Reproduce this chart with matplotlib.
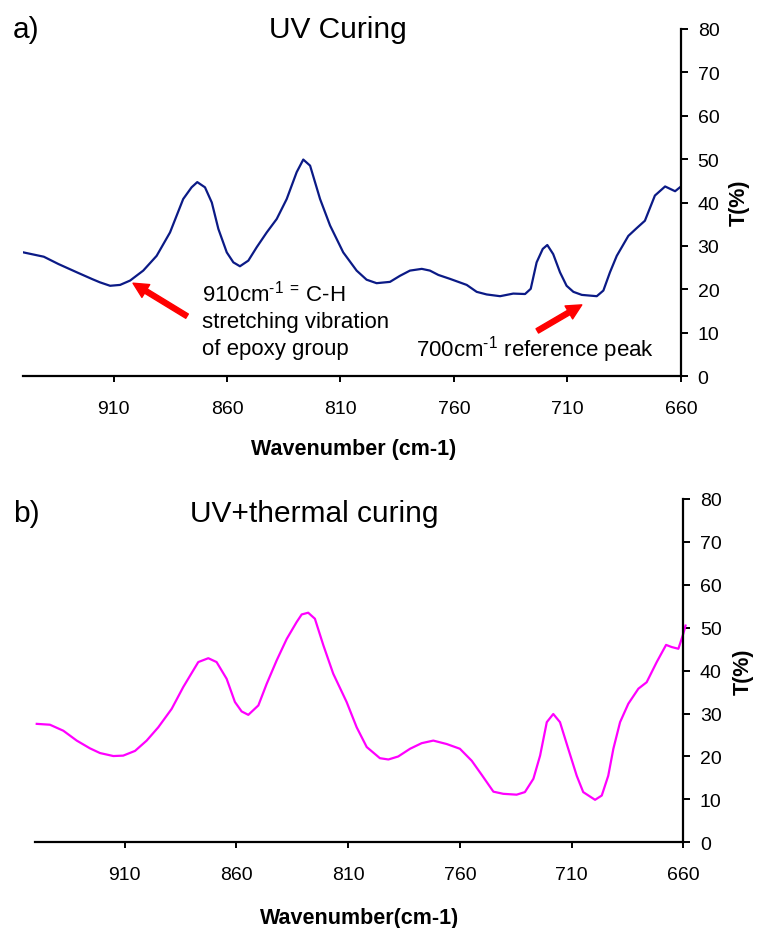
import matplotlib
matplotlib.use("Agg")
import matplotlib.pyplot as plt

plt.rcParams['font.family'] = ['Liberation Sans', 'DejaVu Sans']
plt.rcParams['mathtext.fontset'] = 'custom'
plt.rcParams['mathtext.rm'] = 'Liberation Sans'
plt.rcParams['mathtext.it'] = 'Liberation Sans'

# ---- data ----
wn_a = [949.7, 940.7, 934.2, 925.7, 919.2, 916.0, 911.5, 907.1, 902.7, 896.9,
        891.0, 885.1, 879.3, 875.6, 873.1, 869.7, 866.7, 863.8, 860.1, 857.2,
        854.3, 850.6, 846.9, 842.5, 838.1, 833.7, 829.3, 826.4, 823.4, 819.0,
        814.6, 808.8, 802.9, 798.5, 794.1, 788.2, 783.8, 779.4, 774.2, 770.6,
        766.9, 761.8, 754.4, 750.0, 745.6, 739.7, 733.9, 728.7, 726.2, 723.6,
        720.9, 718.9, 716.3, 713.3, 710.4, 707.4, 703.7, 697.1, 694.2, 691.3,
        688.3, 683.2, 679.5, 675.9, 671.5, 667.0, 662.6, 660.0]
t_a = [28.5, 27.5, 25.8, 23.8, 22.3, 21.6, 20.8, 21.0, 22.0, 24.3,
       27.7, 33.1, 40.8, 43.5, 44.7, 43.5, 40.0, 33.9, 28.5, 26.2,
       25.3, 26.6, 29.7, 33.1, 36.2, 40.8, 47.0, 49.9, 48.5, 40.8,
       34.7, 28.5, 24.3, 22.2, 21.4, 21.7, 23.1, 24.3, 24.7, 24.3,
       23.3, 22.4, 21.0, 19.4, 18.8, 18.4, 19.0, 18.9, 20.1, 26.2,
       29.3, 30.2, 28.1, 23.9, 20.8, 19.4, 18.7, 18.4, 19.7, 23.9,
       27.7, 32.3, 34.1, 35.8, 41.6, 43.7, 42.6, 43.7]

wn_b = [949.4, 943.5, 937.5, 931.5, 925.6, 921.1, 915.1, 910.7, 905.4, 900.2,
        895.0, 889.0, 883.8, 877.1, 872.6, 868.9, 864.4, 860.7, 857.7, 854.7,
        850.2, 846.5, 842.0, 837.5, 833.1, 830.8, 827.9, 824.9, 821.1, 816.7,
        810.7, 806.2, 801.7, 795.8, 792.0, 787.6, 782.3, 777.1, 771.9, 765.9,
        760.0, 754.7, 750.2, 745.0, 740.6, 734.6, 730.9, 727.1, 724.1, 721.1,
        718.2, 715.2, 711.5, 707.7, 704.8, 699.5, 696.5, 693.6, 691.3, 688.3,
        684.6, 680.1, 676.4, 671.9, 667.7, 665.2, 662.2, 660.0, 659.0]
t_b = [27.6, 27.4, 26.0, 23.7, 21.9, 20.8, 20.1, 20.2, 21.3, 23.7,
       26.8, 31.1, 36.2, 42.0, 42.9, 42.0, 38.1, 32.7, 30.5, 29.7,
       31.9, 36.9, 42.4, 47.4, 51.3, 53.1, 53.5, 52.1, 45.9, 39.3,
       32.7, 26.8, 22.2, 19.6, 19.3, 20.0, 21.8, 23.1, 23.7, 22.9,
       21.8, 19.0, 15.7, 11.8, 11.3, 11.1, 11.7, 14.8, 20.2, 28.0,
       29.9, 28.0, 21.8, 15.5, 11.7, 9.9, 10.9, 15.5, 21.8, 28.0,
       32.3, 35.8, 37.3, 42.0, 46.0, 45.5, 45.1, 48.6, 50.5]

xticks = [910, 860, 810, 760, 710, 660]
yticks = [0, 10, 20, 30, 40, 50, 60, 70, 80]

W, H = 763, 929
fig = plt.figure(figsize=(W / 100, H / 100), dpi=100)


def px_axes(l, r, b, t):
    return fig.add_axes([l / W, (H - b) / H, (r - l) / W, (b - t) / H])


def style(ax):
    ax.set_xlim(950, 660)
    ax.set_ylim(0, 80)
    ax.spines['left'].set_visible(False)
    ax.spines['top'].set_visible(False)
    ax.spines['right'].set_linewidth(1.6)
    ax.spines['bottom'].set_linewidth(1.6)
    ax.yaxis.tick_right()
    ax.set_xticks(xticks)
    ax.set_yticks(yticks)
    ax.tick_params(axis='x', direction='out', length=4.5, width=1.4, pad=12.5, labelsize=14)
    ax.tick_params(axis='y', direction='out', length=5, width=1.4, pad=7, labelsize=14)
    ax.patch.set_alpha(0)


arrow_style = dict(arrowstyle='simple,head_width=0.9,head_length=0.9,tail_width=0.3',
                   color='red', mutation_scale=12, shrinkA=0, shrinkB=0)

# Panel a
ax1 = px_axes(22.7, 681, 377, 30)
ax1.plot(wn_a, t_a, color='#0b1a86', lw=1.6)
style(ax1)

ax1.annotate('', xy=(901.4, 21.4), xytext=(877.6, 13.8), arrowprops=arrow_style)
ax1.annotate('', xy=(703.7, 16.4), xytext=(723.3, 10.4), arrowprops=arrow_style)

fs_ann = 16
ax1.text(871, 17.4, r'910cm$^{\text{-1}}$ $^{\text{=}}$ C-H', fontsize=fs_ann, va='baseline', ha='left')
ax1.text(871, 11.3, 'stretching vibration', fontsize=fs_ann, va='baseline', ha='left')
ax1.text(871, 5.1, 'of epoxy group', fontsize=fs_ann, va='baseline', ha='left')
ax1.text(776.7, 4.7, r'700cm$^{\text{-1}}$ reference peak', fontsize=fs_ann, va='baseline', ha='left')

fig.text(13 / W, (H - 38) / H, 'a)', fontsize=21.5, va='baseline', ha='left')
fig.text(337.5 / W, (H - 38) / H, 'UV Curing', fontsize=21.5, va='baseline', ha='center')
fig.text(354 / W, (H - 455) / H, 'Wavenumber (cm-1)', fontsize=15.5, fontweight='bold',
         va='baseline', ha='center')
fig.text(739 / W, (H - 203) / H, 'T(%)', fontsize=15.5, fontweight='bold', rotation=90,
         va='center', ha='center')

# Panel b
ax2 = px_axes(35.4, 683.3, 843.3, 500)
ax2.plot(wn_b, t_b, color='#ff00ff', lw=1.6, clip_on=False)
style(ax2)

fig.text(13 / W, (H - 522) / H, 'b)', fontsize=21.5, va='baseline', ha='left')
fig.text(314 / W, (H - 522) / H, 'UV+thermal curing', fontsize=21.5, va='baseline', ha='center')
fig.text(360 / W, (H - 924) / H, 'Wavenumber(cm-1)', fontsize=15.5, fontweight='bold',
         va='baseline', ha='center')
fig.text(743 / W, (H - 672) / H, 'T(%)', fontsize=15.5, fontweight='bold', rotation=90,
         va='center', ha='center')

fig.savefig('out.png', dpi=100)
